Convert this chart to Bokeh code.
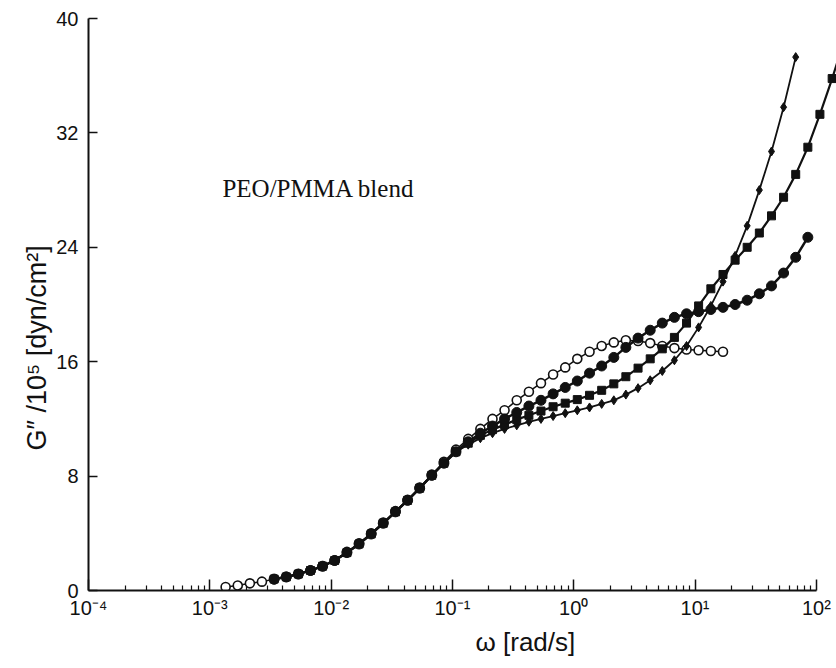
from bokeh.plotting import figure
from bokeh.models import Range1d, FixedTicker, CustomJSTickFormatter, Label, Title
from bokeh.embed import file_html
from bokeh.resources import INLINE

# ---------------- data ----------------
# open circles
w_open = [0.00135, 0.00170, 0.00214, 0.00269, 0.00339, 0.00427, 0.00537, 0.00676, 0.00851,
          0.0107, 0.0135, 0.0170, 0.0214, 0.0269, 0.0339, 0.0427, 0.0537, 0.0676, 0.0851,
          0.107, 0.135, 0.170, 0.214, 0.269, 0.339, 0.427, 0.537, 0.676, 0.851,
          1.07, 1.35, 1.70, 2.14, 2.69, 3.39, 4.27, 5.37, 6.76, 8.51, 10.7, 13.5, 17.0]
g_open = [0.25, 0.35, 0.5, 0.62, 0.78, 0.95, 1.15, 1.4, 1.7,
          2.1, 2.7, 3.3, 4.0, 4.75, 5.55, 6.35, 7.2, 8.1, 9.0,
          9.85, 10.6, 11.3, 12.0, 12.6, 13.3, 13.9, 14.5, 15.1, 15.6,
          16.2, 16.7, 17.1, 17.35, 17.5, 17.45, 17.3, 17.1, 16.95, 16.85, 16.8, 16.75, 16.7]

# large filled circles
w_circ = [0.00339, 0.00427, 0.00537, 0.00676, 0.00851,
          0.0107, 0.0135, 0.0170, 0.0214, 0.0269, 0.0339, 0.0427, 0.0537, 0.0676, 0.0851,
          0.107, 0.135, 0.170, 0.214, 0.269, 0.339, 0.427, 0.537, 0.676, 0.851,
          1.07, 1.35, 1.70, 2.14, 2.69, 3.39, 4.27, 5.37, 6.76, 8.51,
          10.7, 13.5, 17.0, 21.4, 26.9, 33.9, 42.7, 53.7, 67.6, 85.1]
g_circ = [0.8, 0.95, 1.15, 1.4, 1.7,
          2.1, 2.65, 3.25, 3.95, 4.7, 5.5, 6.3, 7.15, 8.05, 8.9,
          9.7, 10.4, 11.0, 11.5, 12.0, 12.45, 12.9, 13.3, 13.75, 14.2,
          14.65, 15.2, 15.7, 16.3, 17.0, 17.65, 18.2, 18.7, 19.1, 19.35,
          19.5, 19.65, 19.8, 20.0, 20.3, 20.75, 21.3, 22.2, 23.3, 24.7]

# filled squares
w_sq = [0.00339, 0.00427, 0.00537, 0.00676, 0.00851,
        0.0107, 0.0135, 0.0170, 0.0214, 0.0269, 0.0339, 0.0427, 0.0537, 0.0676, 0.0851,
        0.107, 0.135, 0.170, 0.214, 0.269, 0.339, 0.427, 0.537, 0.676, 0.851,
        1.07, 1.35, 1.70, 2.14, 2.69, 3.39, 4.27, 5.37, 6.76, 8.51,
        10.7, 13.5, 17.0, 21.4, 26.9, 33.9, 42.7, 53.7, 67.6, 85.1, 107, 135, 170]
g_sq = [0.8, 0.95, 1.15, 1.4, 1.7,
        2.1, 2.65, 3.25, 3.95, 4.7, 5.5, 6.3, 7.15, 8.05, 8.9,
        9.7, 10.3, 10.85, 11.25, 11.6, 11.95, 12.25, 12.55, 12.85, 13.1,
        13.35, 13.65, 14.0, 14.45, 14.95, 15.55, 16.2, 16.9, 17.7, 18.7,
        19.9, 21.1, 22.1, 23.1, 24.0, 25.0, 26.2, 27.5, 29.1, 31.0, 33.3, 35.8, 38.5]

# small diamonds
w_dia = [0.00339, 0.00427, 0.00537, 0.00676, 0.00851,
         0.0107, 0.0135, 0.0170, 0.0214, 0.0269, 0.0339, 0.0427, 0.0537, 0.0676, 0.0851,
         0.107, 0.135, 0.170, 0.214, 0.269, 0.339, 0.427, 0.537, 0.676, 0.851,
         1.07, 1.35, 1.70, 2.14, 2.69, 3.39, 4.27, 5.37, 6.76, 8.51,
         10.7, 13.5, 17.0, 21.4, 26.9, 33.9, 42.7, 53.7, 67.6]
g_dia = [0.8, 0.95, 1.15, 1.4, 1.7,
         2.1, 2.65, 3.25, 3.95, 4.7, 5.5, 6.3, 7.15, 8.05, 8.9,
         9.7, 10.2, 10.65, 11.0, 11.3, 11.55, 11.8, 12.0, 12.2, 12.4,
         12.6, 12.8, 13.05, 13.3, 13.7, 14.15, 14.7, 15.35, 16.1, 17.1,
         18.4, 19.9, 21.6, 23.4, 25.5, 28.0, 30.7, 33.8, 37.3]

x_tick_values = [1e-4, 1e-3, 1e-2, 1e-1, 1e0, 1e1, 1e2]
x_tick_labels = ["10⁻⁴", "10⁻³", "10⁻²", "10⁻¹", "10⁰", "10¹", "10²"]
y_tick_values = [0, 8, 16, 24, 32, 40]

title_text = "PEO/PMMA blend"
x_label = "ω [rad/s]"
y_label = "G″ /10⁵ [dyn/cm²]"

# ---------------- figure ----------------
INK = "#111111"
SANS = "Liberation Sans"

p = figure(width=836, height=668, x_axis_type="log",
           x_range=Range1d(1e-4, 146.6), y_range=Range1d(0, 40.49),
           output_backend="svg", toolbar_location=None,
           min_border_left=88, min_border_right=0, min_border_top=11, min_border_bottom=78)
p.outline_line_color = None
p.grid.visible = False
p.background_fill_color = "white"
p.border_fill_color = "white"

xa = p.xaxis[0]
minor = [m * 10.0 ** k for k in range(-4, 2) for m in range(2, 10)]
xa.ticker = FixedTicker(ticks=x_tick_values, minor_ticks=minor)
xa.formatter = CustomJSTickFormatter(args=dict(labels=x_tick_labels), code="""
    const e = Math.round(Math.log10(tick));
    const s = labels[e + 4];
    return (s === undefined) ? "" : s;
""")
xa.bounds = (1e-4, 100)
xa.axis_line_width = 2
xa.axis_line_color = INK
xa.major_tick_in = 11
xa.major_tick_out = 0
xa.minor_tick_in = 5
xa.minor_tick_out = 0
xa.major_tick_line_width = 1.5
xa.minor_tick_line_width = 1.2
xa.major_tick_line_color = INK
xa.minor_tick_line_color = INK
xa.major_label_text_font = SANS
xa.major_label_text_font_size = "20px"
xa.major_label_text_color = INK
xa.major_label_standoff = 6

ya = p.yaxis[0]
ya.ticker = FixedTicker(ticks=y_tick_values, minor_ticks=[])
ya.bounds = (0, 40)
ya.axis_line_width = 2
ya.axis_line_color = INK
ya.major_tick_in = 9
ya.major_tick_out = 0
ya.minor_tick_in = 0
ya.minor_tick_out = 0
ya.major_tick_line_width = 1.5
ya.major_tick_line_color = INK
ya.major_label_text_font = SANS
ya.major_label_text_font_size = "20px"
ya.major_label_text_color = INK
ya.major_label_standoff = 10

# series: open circles first (under), then the filled ones
p.line(w_open, g_open, line_color=INK, line_width=1.5)
p.scatter(w_open, g_open, marker="circle", size=9, fill_color="white",
          line_color=INK, line_width=1.6)

p.line(w_dia, g_dia, line_color=INK, line_width=1.8)
p.scatter(w_dia, g_dia, marker="diamond", size=9, fill_color=INK, line_color=INK)

p.line(w_sq, g_sq, line_color=INK, line_width=2.2)
p.scatter(w_sq, g_sq, marker="square", size=8, fill_color=INK, line_color=INK)

p.line(w_circ, g_circ, line_color=INK, line_width=2.5)
p.scatter(w_circ, g_circ, marker="circle", size=10, fill_color=INK, line_color=INK)

# texts
p.add_layout(Label(x=0.00127, y=28.1, text=title_text, text_font="Liberation Serif",
                   text_font_size="25px", text_color=INK, text_align="left",
                   text_baseline="middle"))
p.add_layout(Title(text=x_label, align="left", offset=387, text_font=SANS,
                   text_font_size="26px", text_font_style="normal", text_color=INK,
                   standoff=6), "below")
p.add_layout(Title(text=y_label, align="left", offset=140, text_font=SANS,
                   text_font_size="27px", text_font_style="normal", text_color=INK,
                   standoff=4), "left")

open("out.html", "w").write(file_html(p, INLINE))
